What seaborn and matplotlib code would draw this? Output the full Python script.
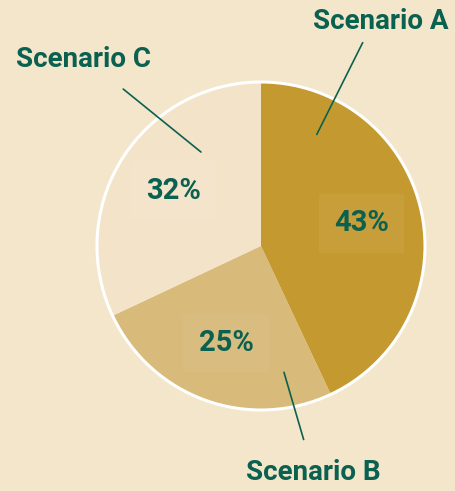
import matplotlib
matplotlib.use("Agg")
import matplotlib.pyplot as plt
import seaborn as sns
import numpy as np

labels = ["Scenario A", "Scenario B", "Scenario C"]
values = [43, 25, 32]
colors = ["#C4992F", "#D8BA7A", "#F3E3C9"]

bg = "#F4E6CB"
green = "#0B6150"

sns.set_theme(style="white")
plt.rcParams["font.family"] = ["Roboto", "DejaVu Sans"]

fig = plt.figure(figsize=(4.56, 4.91), dpi=100, facecolor=bg)
ax = fig.add_axes([0, 0, 1, 1])
ax.set_facecolor(bg)

wedges, texts, autotexts = ax.pie(
    values, colors=colors, startangle=90, counterclock=False, radius=1.0,
    autopct=lambda p: f"{p:.0f}%", pctdistance=0.63,
    wedgeprops=dict(linewidth=0),
    textprops=dict(color=green, fontsize=21, fontweight="bold"),
)
for t in autotexts:
    t.set_bbox(dict(facecolor="white", alpha=0.05, edgecolor="none", pad=11))

R = 164.0
ax.set_xlim(-261 / R, (456 - 261) / R)
ax.set_ylim(-(491 - 246) / R, 246 / R)
ax.set_aspect("equal")
ax.axis("off")

ax.add_patch(plt.Circle((0, 0), 1.0, fill=False, edgecolor="white", linewidth=2.2))

# leader lines and labels (layout positions)
layout = {
    "Scenario A": ((0.34, 0.68), (0.62, 1.24), (0.73, 1.37)),
    "Scenario B": ((0.14, -0.77), (0.26, -1.18), (0.32, -1.38)),
    "Scenario C": ((-0.366, 0.573), (-0.84, 0.957), (-1.085, 1.14)),
}
for lab in labels:
    p0, p1, pt = layout[lab]
    ax.plot([p0[0], p1[0]], [p0[1], p1[1]], color=green, linewidth=1.2)
    ax.text(pt[0], pt[1], lab, color=green, fontsize=20, fontweight="bold",
            ha="center", va="center")

fig.savefig("out.png", dpi=100, facecolor=bg)
